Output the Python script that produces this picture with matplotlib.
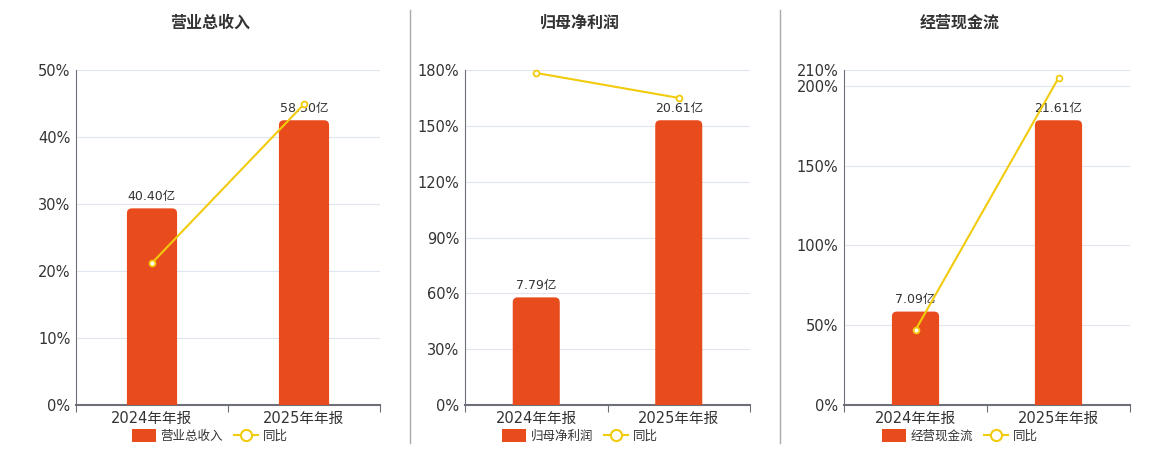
import numpy as np
import matplotlib
matplotlib.use("Agg")
from matplotlib import pyplot as plt
from matplotlib.patches import FancyBboxPatch
from matplotlib.lines import Line2D
from matplotlib.ticker import FuncFormatter

plt.rcParams['font.family'] = ['DejaVu Sans', 'Noto Sans CJK SC']

categories = ['2024年年报', '2025年年报']
titles = ['营业总收入', '归母净利润', '经营现金流']
bar_values = [[40.40, 58.50], [7.79, 20.61], [7.09, 21.61]]
bar_labels = [['40.40亿', '58.50亿'], ['7.79亿', '20.61亿'], ['7.09亿', '21.61亿']]
yoy_values = [[21.2, 44.9], [178.4, 165.0], [47.0, 205.0]]
pct_ticks = [[0, 10, 20, 30, 40, 50],
             [0, 30, 60, 90, 120, 150, 180],
             [0, 50, 100, 150, 200, 210]]

BAR_COLOR = '#e84c1d'
LINE_COLOR = '#f2cb0c'
GRID_COLOR = '#e0e6f1'
AXIS_COLOR = '#6e7079'
TEXT_COLOR = '#333333'

fig = plt.figure(figsize=(11.6, 4.5), dpi=100)

W, H = 1160., 450.
panels = [(76, 380), (465, 750), (844, 1130)]
title_x = [210, 580, 960]
top_px, bot_px = 70, 405

x = np.arange(len(categories))

for i in range(3):
    l, r = panels[i]
    rect = [l / W, 1 - bot_px / H, (r - l) / W, (bot_px - top_px) / H]
    ax = fig.add_axes(rect)
    ymax = pct_ticks[i][-1]
    ax.set_xlim(-0.5, 1.5)
    ax.set_ylim(0, ymax)
    ax.set_yticks(pct_ticks[i])
    ax.yaxis.set_major_formatter(FuncFormatter(lambda v, p: '%d%%' % v))
    ax.grid(axis='y', color=GRID_COLOR, linewidth=0.8)
    ax.set_axisbelow(True)
    for s in ['top', 'right']:
        ax.spines[s].set_visible(False)
    ax.spines['left'].set_color(AXIS_COLOR)
    ax.spines['left'].set_linewidth(0.8)
    ax.spines['bottom'].set_color(AXIS_COLOR)
    ax.spines['bottom'].set_linewidth(1.5)
    ax.tick_params(axis='y', length=0, labelsize=10.5, labelcolor=TEXT_COLOR, pad=4)
    ax.set_xticks([-0.5, 0.5, 1.5])
    ax.set_xticklabels([])
    ax.set_xticks(x, minor=True)
    ax.set_xticklabels(categories, minor=True)
    ax.tick_params(axis='x', which='major', length=5, color=AXIS_COLOR, width=0.8)
    ax.tick_params(axis='x', which='minor', length=0, labelsize=10.5,
                   labelcolor=TEXT_COLOR, pad=4)

    # bars on a hidden scale of their own
    bx = ax.twinx()
    bmax = max(bar_values[i]) / 0.85
    bx.set_ylim(0, bmax)
    bx.set_xlim(-0.5, 1.5)
    bx.axis('off')
    bars = bx.bar(x, bar_values[i], width=0.33, color=BAR_COLOR)
    # rounded tops
    ax_w = (r - l)
    ax_h = (bot_px - top_px)
    aspect = (bmax / ax_h) / (2.0 / ax_w)
    rad = 5 * 2.0 / ax_w
    for b in bars:
        b.set_visible(False)
        p = FancyBboxPatch((b.get_x(), -bmax * 0.05), b.get_width(),
                           b.get_height() + bmax * 0.05,
                           boxstyle='round,pad=0,rounding_size=%f' % rad,
                           mutation_aspect=aspect, facecolor=BAR_COLOR,
                           edgecolor='none')
        p.set_clip_path(bx.patch)
        bx.add_patch(p)
    for xi, v, t in zip(x, bar_values[i], bar_labels[i]):
        bx.annotate(t, (xi, v), xytext=(0, 4), textcoords='offset points',
                    ha='center', va='bottom', fontsize=9, color=TEXT_COLOR)

    # yoy line on top
    cx = ax.twinx()
    cx.set_ylim(0, ymax)
    cx.set_xlim(-0.5, 1.5)
    cx.axis('off')
    cx.plot(x, yoy_values[i], color=LINE_COLOR, linewidth=1.5, marker='o',
            markersize=4.2, markerfacecolor='white', markeredgecolor=LINE_COLOR,
            markeredgewidth=1.3, clip_on=False)

    fig.text(title_x[i] / W, 1 - 23 / H, titles[i], ha='center', va='center',
             fontsize=11.5, fontweight='bold', color=TEXT_COLOR)

    handles = [FancyBboxPatch((0, 0), 1, 1, boxstyle='round,pad=0,rounding_size=0.25',
                              facecolor=BAR_COLOR, edgecolor='none'),
               Line2D([0], [0], color=LINE_COLOR, linewidth=1.5, marker='o',
                      markersize=8, markerfacecolor='white',
                      markeredgecolor=LINE_COLOR, markeredgewidth=1.5)]
    leg = fig.legend(handles, [titles[i], '同比'], loc='center',
                     bbox_to_anchor=(title_x[i] / W, 1 - 436 / H), ncol=2,
                     frameon=False, fontsize=9, handlelength=1.9,
                     handleheight=1.2, columnspacing=0.9, handletextpad=0.4,
                     borderpad=0)
    for t in leg.get_texts():
        t.set_color(TEXT_COLOR)

for sx in [410, 780]:
    fig.add_artist(Line2D([sx / W, sx / W], [1 - 443 / H, 1 - 10 / H],
                          color='#aaaaaa', linewidth=1))

fig.savefig('out.png', dpi=100, facecolor='white')
